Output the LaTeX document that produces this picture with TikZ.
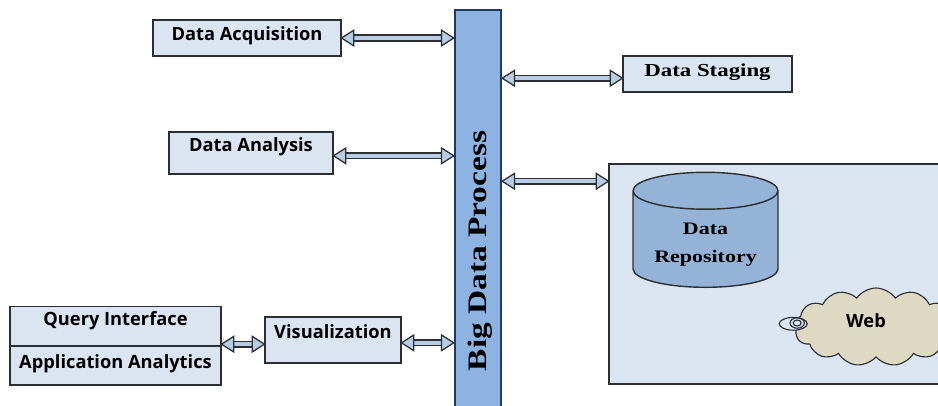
\documentclass[tikz,border=0pt]{standalone}
\usepackage{fontspec}
\setmainfont{Liberation Serif}
\setsansfont{Open Sans}
\newfontfamily\widefont[FakeStretch=1.25]{Liberation Serif}
\usepackage{tikz}
\usetikzlibrary{shapes, arrows.meta}

\definecolor{boxfill}{HTML}{DBE5F1}
\definecolor{boxline}{HTML}{2B2F33}
\definecolor{busfill}{HTML}{8DB3E2}
\definecolor{busline}{HTML}{1F3A5F}
\definecolor{drumfill}{HTML}{95B3D7}
\definecolor{cloudfill}{HTML}{DDD9C3}
\definecolor{linkfill}{HTML}{B8CCE4}

\tikzset{
        block/.style={draw=boxline, fill=boxfill, line width=1pt, inner sep=0pt, font=\sffamily\bfseries\fontsize{13}{15}\selectfont},
        link/.style={draw=boxline, line width=0.9pt, double=linkfill, double distance=3.2pt, shorten <=-1pt, shorten >=-1pt,
                {Triangle[fill=linkfill, length=10pt, width=12.5pt]}-{Triangle[fill=linkfill, length=10pt, width=12.5pt]}}
}

\begin{document}
\begin{tikzpicture}
        \useasboundingbox (0, 0) rectangle (23.45, 10.125);
        \clip (0, 0) rectangle (23.45, 10.125);

        \node [block, minimum width=4.7cm, minimum height=0.9cm, text depth=7pt] (DAcq) at (6.175, 9.175) {Data Acquisition};
        \node [block, minimum width=4.1cm, minimum height=1.05cm, text depth=12pt] (DAna) at (6.275, 6.3) {Data Analysis};
        \node [block, minimum width=5.275cm, minimum height=1.1cm, text depth=14pt] (QInt) at (2.8875, 1.9125) {Query Interface};
        \node [block, minimum width=5.275cm, minimum height=0.975cm, text depth=6pt] (AApp) at (2.8875, 0.9875) {Application Analytics};
        \node [block, minimum width=3.4cm, minimum height=1.15cm, text depth=12pt] (Vis) at (8.325, 1.625) {Visualization};

        \node [draw=busline, fill=busfill, line width=2pt, inner sep=0pt, minimum width=1.15cm, minimum height=10cm] (Bus) at (11.95, 4.875) {};
        \node [rotate=90, inner sep=0pt, font=\widefont\bfseries\fontsize{19}{21}\selectfont] (BusText) at (12.0, 3.85) {Big Data Process};

        \node [block, font=\widefont\bfseries\fontsize{13}{15}\selectfont, minimum width=4.225cm, minimum height=0.9cm, text depth=6pt] (DStg) at (17.6875, 8.275) {Data Staging};
        \node [block, minimum width=8.525cm, minimum height=5.5cm] (Repo) at (19.4875, 3.275) {};

        \node [draw=boxline, cylinder, shape border rotate=90, shape aspect=0.36, cylinder uses custom fill, cylinder body fill=drumfill, cylinder end fill=drumfill, anchor=south,
                line width=1pt, inner sep=0pt, minimum width=3.625cm, minimum height=2.875cm, align=center, font=\widefont\bfseries\fontsize{12.5}{20}\selectfont] (Drum) at (17.6375, 2.925) {\rule{0pt}{16pt}Data\\Repository};

        \node [draw=boxline, fill=cloudfill, cloud, cloud puffs=13, cloud puff arc=110, aspect=2, line width=0.8pt, inner sep=0pt, minimum width=4.1cm, minimum height=1.95cm] (Web) at (21.9, 1.95) {};
        \node [inner sep=0pt, font=\sffamily\bfseries\fontsize{13}{15}\selectfont] (WebText) at (21.65, 2.1) {Web};
        \node [draw=boxline, ellipse, fill=boxfill, line width=0.8pt, inner sep=0pt, minimum width=0.7cm, minimum height=0.32cm] (Ring1) at (19.83, 2.03) {};
        \node [draw=boxline, ellipse, line width=0.8pt, inner sep=0pt, minimum width=0.36cm, minimum height=0.26cm] (Ring2) at (19.93, 2.05) {};
        \node [draw=boxline, ellipse, line width=0.8pt, inner sep=0pt, minimum width=0.2cm, minimum height=0.15cm] (Ring3) at (19.93, 2.05) {};

        \draw [link] (DAcq.east) -- (DAcq.east -| Bus.west);
        \draw [link] ([yshift=-2pt] DAna.east) -- ([yshift=-2pt] DAna.east -| Bus.west);
        \draw [link] ([yshift=-3pt] DStg.west) -- ([yshift=-3pt] DStg.west -| Bus.east);
        \draw [link] ([yshift=66pt] Repo.west) -- ([yshift=66pt] Repo.west -| Bus.east);
        \draw [link] ([yshift=-2pt] Vis.east) -- ([yshift=-2pt] Vis.east -| Bus.west);
        \draw [link] ([yshift=5pt] QInt.south east) -- ([yshift=5pt] QInt.south -| Vis.west);
\end{tikzpicture}
\end{document}
